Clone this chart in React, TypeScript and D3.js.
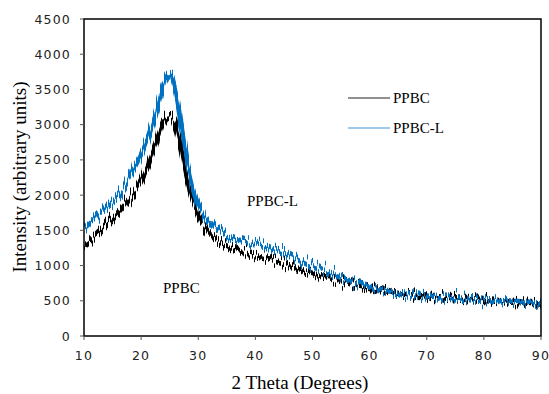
import React from "react";
import * as d3 from "d3";

const twoTheta = [
  10, 11, 12, 13, 14, 15, 16, 17, 18, 19, 20, 21, 22, 23, 24, 25, 26, 27, 28, 29, 30,
  31, 32, 33, 34, 35, 36, 37, 38, 39, 40, 41, 42, 43, 44, 45, 46, 47, 48, 49, 50,
  51, 52, 53, 54, 55, 56, 57, 58, 59, 60, 61, 62, 63, 64, 65, 66, 67, 68, 69, 70,
  71, 72, 73, 74, 75, 76, 77, 78, 79, 80, 81, 82, 83, 84, 85, 86, 87, 88, 89, 90,
];
const ppbc = [
  1290, 1350, 1420, 1500, 1580, 1660, 1750, 1850, 1950, 2070, 2200, 2380, 2600, 2830, 3050, 3120, 2980, 2650, 2250, 1950, 1720,
  1560, 1450, 1380, 1330, 1280, 1240, 1210, 1190, 1170, 1150, 1130, 1110, 1090, 1070, 1040, 1000, 970, 940, 910, 880,
  860, 840, 820, 800, 780, 760, 740, 720, 700, 680, 665, 650, 630, 610, 595, 585, 578, 572, 566, 560,
  555, 550, 545, 540, 535, 530, 525, 520, 515, 510, 505, 500, 495, 490, 485, 480, 475, 470, 465, 460,
];
const ppbcL = [
  1540, 1610, 1680, 1760, 1840, 1920, 2010, 2120, 2250, 2400, 2560, 2760, 3000, 3280, 3580, 3720, 3480, 3000, 2500, 2130, 1870,
  1720, 1610, 1530, 1470, 1420, 1390, 1370, 1350, 1340, 1330, 1320, 1290, 1250, 1220, 1190, 1150, 1110, 1070, 1030, 990,
  960, 930, 900, 870, 840, 810, 780, 750, 720, 700, 680, 660, 640, 620, 600, 590, 580, 575, 570, 562,
  556, 551, 546, 541, 536, 531, 526, 521, 516, 511, 506, 501, 496, 491, 486, 481, 476, 471, 466, 461,
];
const xTicks = [10, 20, 30, 40, 50, 60, 70, 80, 90];
const yTicks = [0, 500, 1000, 1500, 2000, 2500, 3000, 3500, 4000, 4500];
const seriesNames = ["PPBC", "PPBC-L"];
const seriesColors = ["#000000", "#0070C0"];

export default function App() {
  const left = 84, right = 541, top = 19, bottom = 336;
  const x = d3.scaleLinear().domain([10, 90]).range([left, right]);
  const y = d3.scaleLinear().domain([0, 4500]).range([bottom, top]);
  const line = d3
    .line<number>()
    .x((_, i) => x(twoTheta[i]))
    .y((d) => y(d))
    .curve(d3.curveMonotoneX);
  const series = [ppbc, ppbcL];
  const serif = "'Liberation Serif', 'Times New Roman', serif";
  const sans = "'DejaVu Sans', Verdana, sans-serif";
  return (
    <svg width={549} height={394} style={{ position: "absolute", left: 0, top: 0, background: "#fff" }}>
      <defs>
        <clipPath id="plot">
          <rect x={left} y={top} width={right - left} height={bottom - top} />
        </clipPath>
        {[0, 1].map((k) => (
          <filter key={k} id={`jitter${k}`} filterUnits="userSpaceOnUse" x={0} y={0} width={549} height={394}>
            <feTurbulence type="fractalNoise" baseFrequency="0.9 0.003" numOctaves={2} seed={k === 0 ? 3 : 11} result="n" />
            <feColorMatrix
              in="n"
              type="matrix"
              values="1 0 0 0 0  0 0 0 0 0.5  0 0 0 0 0  0 0 0 0 1"
              result="m"
            />
            <feDisplacementMap in="SourceGraphic" in2="m" scale={24} xChannelSelector="G" yChannelSelector="R" />
          </filter>
        ))}
      </defs>
      <g clipPath="url(#plot)">
        {series.map((s, k) => (
          <path
            key={k}
            d={line(s) || ""}
            fill="none"
            stroke={seriesColors[k]}
            strokeWidth={4.5}
            strokeLinejoin="round"
            filter={`url(#jitter${k})`}
          />
        ))}
      </g>
      <rect x={left} y={top} width={right - left} height={bottom - top} fill="none" stroke="#000" strokeWidth={1.5} />
      {yTicks.map((t) => (
        <g key={t}>
          <line x1={left - 4} x2={left} y1={y(t)} y2={y(t)} stroke="#555" />
          <text x={left - 13} y={y(t) + 4.5} textAnchor="end" fontFamily={sans} fontSize={12.5} letterSpacing={1.2} fill="#222">
            {t}
          </text>
        </g>
      ))}
      {xTicks.map((t) => (
        <g key={t}>
          <line x1={x(t)} x2={x(t)} y1={bottom} y2={bottom + 4} stroke="#555" />
          <text x={x(t)} y={bottom + 24} textAnchor="middle" fontFamily={sans} fontSize={12.5} letterSpacing={1.2} fill="#222">
            {t}
          </text>
        </g>
      ))}
      <text x={300} y={389} textAnchor="middle" fontFamily={serif} fontSize={19} fill="#000">
        2 Theta (Degrees)
      </text>
      <text transform={`translate(26,177) rotate(-90)`} textAnchor="middle" fontFamily={serif} fontSize={19} fill="#000">
        Intensity (arbitrary units)
      </text>
      {seriesNames.map((n, k) => (
        <g key={n}>
          <line x1={348} x2={390} y1={98 + k * 30} y2={98 + k * 30} stroke={k === 0 ? "#222" : "#3c93dc"} strokeWidth={1.2} />
          <text x={393} y={103 + k * 30} fontFamily={serif} fontSize={15} fill="#000">
            {n}
          </text>
        </g>
      ))}
      <text x={247} y={206} fontFamily={serif} fontSize={15} fill="#000">PPBC-L</text>
      <text x={163} y={293} fontFamily={serif} fontSize={15} fill="#000">PPBC</text>
    </svg>
  );
}
